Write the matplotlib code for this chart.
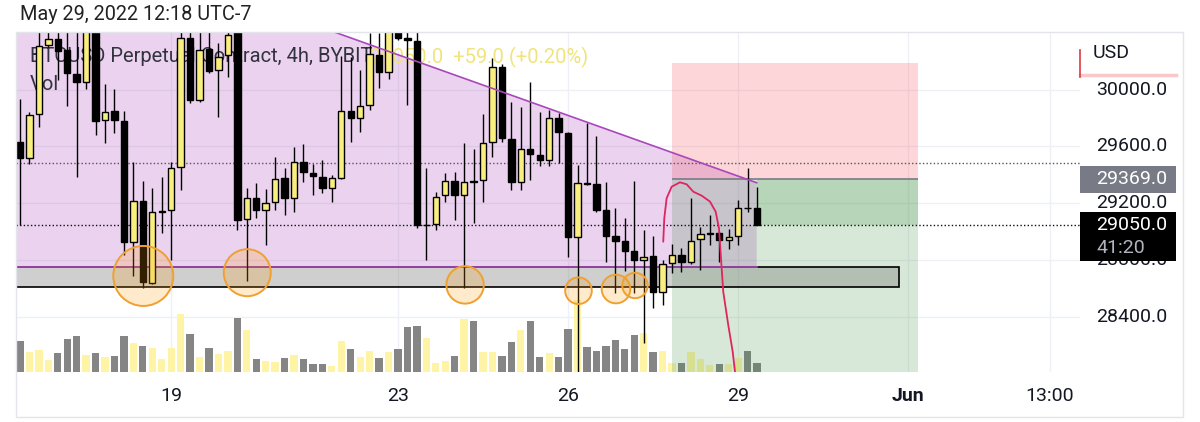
import matplotlib.pyplot as plt
import matplotlib.transforms as mtransforms
from matplotlib.patches import Rectangle, Polygon
from matplotlib.lines import Line2D
import numpy as np

plt.rcParams['font.family'] = ['Roboto', 'DejaVu Sans']

# ============ BTCUSD 4h candles ============
opens = [29629, 29520, 29826, 30313, 30353, 30278, 30109, 30055, 30430, 29786,
         29849, 29779, 28929, 29216, 28636, 29140, 29152, 29457, 30360, 29926,
         30283, 30137, 30243, 30420, 29089, 29235, 29152, 29211, 29375, 29235,
         29492, 29410, 29387, 29309, 29377, 29849, 29802, 29891, 30243, 30125,
         30430, 30360, 30344, 29047, 29052, 29258, 29356, 29258, 29358, 29363,
         29629, 30161, 29652, 29351, 29581, 29539, 29504, 29802, 29692, 28964,
         29342, 29338, 29152, 28971, 28934, 28864, 28800, 28829, 28577, 28777,
         28836, 28784, 28948, 28981, 28990, 28941, 28971, 29168, 29168]
highs = [29933, 29842, 30450, 30480, 30470, 30420, 30420, 30470, 30480, 30037,
         30004, 29849, 29488, 29356, 29305, 29387, 29492, 30407, 30450, 30420,
         30407, 30327, 30460, 30470, 29305, 29344, 29300, 29527, 29450, 29598,
         29615, 29474, 29504, 29399, 30236, 30231, 30137, 30400, 30398, 30460,
         30480, 30407, 30403, 29446, 29281, 29410, 29418, 29622, 29581, 29826,
         30220, 30177, 29910, 29879, 30055, 29840, 29856, 29833, 29703, 29469,
         29762, 29675, 29351, 29168, 29098, 29356, 29011, 28971, 28800, 28911,
         28883, 29239, 29035, 29117, 28995, 29018, 29223, 29450, 29316]
lows = [29047, 29474, 29738, 30301, 30067, 29884, 29387, 30002, 29680, 29622,
        29692, 28836, 28690, 28601, 28629, 28988, 28800, 29293, 29903, 29912,
        30114, 29809, 30088, 29011, 28653, 29094, 28906, 29152, 29117, 29140,
        29347, 29258, 29270, 29206, 29370, 29629, 29703, 29856, 30009, 30072,
        30349, 29891, 29023, 28800, 29011, 29211, 29082, 28601, 29059, 29211,
        29527, 29633, 29293, 29293, 29363, 29464, 29464, 29481, 28824, 28000,
        29328, 29140, 28788, 28566, 28723, 28566, 28214, 28460, 28484, 28707,
        28718, 28770, 28730, 28906, 28788, 28878, 28906, 29140, 29050]
closes = [29520, 29821, 30308, 30356, 30273, 30114, 30051, 30420, 29779, 29844,
          29786, 28925, 29216, 28648, 29140, 29145, 29450, 30360, 29926, 30278,
          30132, 30231, 30384, 29082, 29235, 29152, 29199, 29370, 29235, 29492,
          29418, 29394, 29309, 29375, 29849, 29802, 29884, 30248, 30125, 30410,
          30360, 30350, 29047, 29050, 29246, 29356, 29258, 29351, 29352, 29622,
          30161, 29657, 29347, 29581, 29544, 29504, 29802, 29699, 28964, 29340,
          29338, 29152, 28971, 28934, 28864, 28800, 28824, 28577, 28770, 28836,
          28784, 28934, 28981, 28990, 28941, 28964, 29168, 29165, 29050]
volumes = [31.3, 20.3, 22.0, 12.0, 19.3, 33.3, 36.0, 17.3, 18.7, 15.3,
           16.0, 36.0, 29.3, 26.0, 23.7, 12.7, 23.7, 58.0, 37.7, 15.3,
           24.3, 18.0, 21.3, 53.7, 42.0, 13.3, 11.3, 10.0, 14.0, 17.0,
           12.7, 7.7, 7.7, 6.3, 31.0, 22.7, 15.3, 21.0, 14.3, 20.0,
           22.7, 45.3, 46.3, 34.3, 9.3, 11.0, 16.0, 52.7, 51.3, 20.3,
           19.7, 16.3, 29.7, 42.0, 51.0, 15.3, 18.7, 15.3, 42.7, 72.0,
           25.3, 21.3, 26.3, 32.0, 23.0, 37.0, 38.7, 20.3, 21.3, 9.3,
           8.7, 19.7, 13.0, 6.7, 8.0, 7.7, 13.7, 21.3, 9.3]
VOL_FULL = 340.0  # volume that would fill the whole pane height

time_ticks = [16, 40, 58, 76, 94, 109]
time_labels = ['19', '23', '26', '29', 'Jun', '13:00']
price_ticks = [30000, 29600, 29200, 28800, 28400]

# ============ Drawings on the chart ============
trend_x = [38.1, 77.96]
trend_y = [30290, 29344]
tri_base = 28753
support_lo, support_hi, support_end = 28608, 28753, 93.0
entry, stop, pos_start, pos_end = 29369, 30185, 69.0, 95.0
last_price, prev_line = 29050, 29481

circle_x = [13.05, 24.05, 47.1, 59.1, 63.07, 65.08]
circle_y = [28688, 28711, 28625, 28584, 28596, 28621]
circle_r = [30, 23.5, 18.7, 13.3, 14.3, 12.7]  # radius in pixels

curve_x = [68.07, 68.18, 68.43, 68.96, 69.84, 70.55, 71.25, 72.14, 73.02,
           73.62, 73.97, 74.18, 74.42, 74.95, 75.42, 75.66]
curve_y = [28929, 29094, 29235, 29316, 29347, 29333, 29281, 29253, 29211,
           29140, 29023, 28812, 28577, 28343, 28155, 28014]

YELLOW = '#F9EE80'
VOL_YELLOW = '#FFF3A6'
VOL_GRAY = '#858585'
TXT = '#131722'
FS = 14

W, H = 1200, 422
fig = plt.figure(figsize=(12, 4.22), dpi=100)
ax = fig.add_axes([16 / W, 50 / H, 1064 / W, 340 / H])
Y0, Y1 = 28012, 30405
ax.set_xlim(-0.42, 112.17)
ax.set_ylim(Y0, Y1)
ppx = (Y1 - Y0) / 340.0
ax.set_xticks([])
ax.set_yticks([])
for s in ax.spines.values():
    s.set_visible(False)

# grid
for p in price_ticks:
    ax.axhline(p, color='#EEF0F5', lw=1, zorder=0)
for t in time_ticks:
    ax.axvline(t, color='#EEF0F5', lw=1, zorder=0)

# triangle pattern
slope = (trend_y[1] - trend_y[0]) / (trend_x[1] - trend_x[0])
xl = -1.0
yl = trend_y[0] + slope * (xl - trend_x[0])
ax.add_patch(Polygon([(xl, yl), (trend_x[1], trend_y[1]), (trend_x[1], tri_base), (xl, tri_base)],
                     closed=True, fc=(0.61, 0.15, 0.69, 0.2), ec='none', zorder=1))
ax.plot([xl, trend_x[1]], [yl, trend_y[1]], color='#A848BA', lw=1.2, zorder=3.5)

# volume overlay
vtrans = mtransforms.blended_transform_factory(ax.transData, ax.transAxes)
for i, v in enumerate(volumes):
    col = VOL_YELLOW if closes[i] >= opens[i] else VOL_GRAY
    ax.add_patch(Rectangle((i - 0.385, 0), 0.77, v / VOL_FULL, transform=vtrans,
                           fc=col, ec='none', zorder=1.2))

# short position tool
ax.add_patch(Rectangle((pos_start, entry), pos_end - pos_start, stop - entry,
                       fc=(0.95, 0.21, 0.27, 0.2), ec='none', zorder=1.5))
ax.add_patch(Rectangle((pos_start, Y0 - 200), pos_end - pos_start, entry - Y0 + 200,
                       fc=(0.22, 0.56, 0.24, 0.2), ec='none', zorder=1.5))
ax.add_patch(Rectangle((len(opens) - 1, last_price), pos_end - len(opens) + 1, entry - last_price,
                       fc=(0.22, 0.56, 0.24, 0.2), ec='none', zorder=1.5))
ax.hlines(entry, pos_start, pos_end, color='#787B86', lw=1.2, zorder=1.6)

# support zone
ax.add_patch(Rectangle((xl, support_lo), support_end - xl, support_hi - support_lo,
                       fc=(0.39, 0.39, 0.39, 0.3), ec='black', lw=1.2, zorder=2.2))
ax.plot([xl, trend_x[1]], [tri_base, tri_base], color='#A848BA', lw=1.2, zorder=2.3)

# dotted price lines
ax.axhline(prev_line, color='#555555', lw=1, ls=(0, (1, 1.6)), zorder=2)
ax.axhline(last_price, color='#111111', lw=1, ls=(0, (1, 1.6)), zorder=2)

# legend texts (under the candles)
ax.text(30 / W, 1 - 57 / H, 'BTCUSD Perpetual Contract, 4h, BYBIT', transform=fig.transFigure,
        fontsize=14.5, color='#33333F', va='center', ha='left', zorder=2.5)
ax.text(370 / W, 1 - 57 / H, '29050.0  +59.0 (+0.20%)', transform=fig.transFigure,
        fontsize=14.5, color='#F0E47A', va='center', ha='left', zorder=2.5)
ax.text(30 / W, 1 - 84 / H, 'Vol', transform=fig.transFigure,
        fontsize=14.5, color='#33333F', va='center', ha='left', zorder=2.5)

# candles
for i, (o, h, l, c) in enumerate(zip(opens, highs, lows, closes)):
    ax.vlines(i, l, h, color='black', lw=1.0, zorder=3)
    up = c >= o
    ax.add_patch(Rectangle((i - 0.34, min(o, c)), 0.68, max(abs(c - o), 3),
                           fc=YELLOW if up else 'black', ec='black', lw=1.0, zorder=3.1))

# circles around the lows
sizes = [(2 * r * 0.72) ** 2 for r in circle_r]
ax.scatter(circle_x, circle_y, s=sizes, facecolor=(1.0, 0.6, 0.0, 0.2),
           edgecolor='#F0A030', lw=1.4, zorder=4)

# hand drawn path
ax.plot(curve_x, curve_y, color='#E0245E', lw=1.3, zorder=5, solid_capstyle='round')

# ============ Price scale ============
ptrans = mtransforms.blended_transform_factory(fig.transFigure, ax.transData)
for p in price_ticks:
    ax.text(1096 / W, p, f'{p:.1f}', transform=ptrans, fontsize=FS, color=TXT,
            va='center', ha='left', clip_on=False, zorder=5)
ax.add_patch(Rectangle((1080 / W, entry - 13.5 * ppx), 96 / W, 27 * ppx, transform=ptrans,
                       fc='#787B86', ec='none', clip_on=False, zorder=6))
ax.text(1096 / W, entry, f'{entry:.1f}', transform=ptrans, fontsize=FS, color='white',
        va='center', ha='left', clip_on=False, zorder=7)
ax.add_patch(Rectangle((1080 / W, last_price - 36.6 * ppx), 96 / W, 49.3 * ppx, transform=ptrans,
                       fc='black', ec='none', clip_on=False, zorder=6))
ax.text(1096 / W, last_price, f'{last_price:.1f}', transform=ptrans, fontsize=FS, color='white',
        va='center', ha='left', clip_on=False, zorder=7)
ax.text(1096 / W, last_price - 23.6 * ppx, '41:20', transform=ptrans, fontsize=FS, color='#B2B5BE',
        va='center', ha='left', clip_on=False, zorder=7)

fig.text(1093 / W, 1 - 53 / H, 'USD', fontsize=FS, color=TXT, va='center', ha='left')
fig.add_artist(Line2D([1080 / W, 1176 / W], [1 - 75 / H, 1 - 75 / H], color='#F9C9C9', lw=2.5))
fig.add_artist(Line2D([1080 / W, 1080 / W], [1 - 50 / H, 1 - 77 / H], color='#E0393E', lw=1.2))

# ============ Time scale ============
ttrans = mtransforms.blended_transform_factory(ax.transData, fig.transFigure)
for t, lab in zip(time_ticks, time_labels):
    ax.text(t, 1 - 396 / H, lab, transform=ttrans, fontsize=FS, color=TXT, ha='center', va='center',
            fontweight='bold' if lab == 'Jun' else 'normal', clip_on=False)

# header + frame
fig.text(20 / W, 1 - 14 / H, 'May 29, 2022 12:18 UTC-7', fontsize=14.3, color='#222222',
         va='center', ha='left')
fig.add_artist(Rectangle((16 / W, 1 - 417 / H), (1183 - 16) / W, (417 - 32) / H,
                         fill=False, ec='#E3E5EA', lw=1))

fig.savefig('out.png', dpi=100)
